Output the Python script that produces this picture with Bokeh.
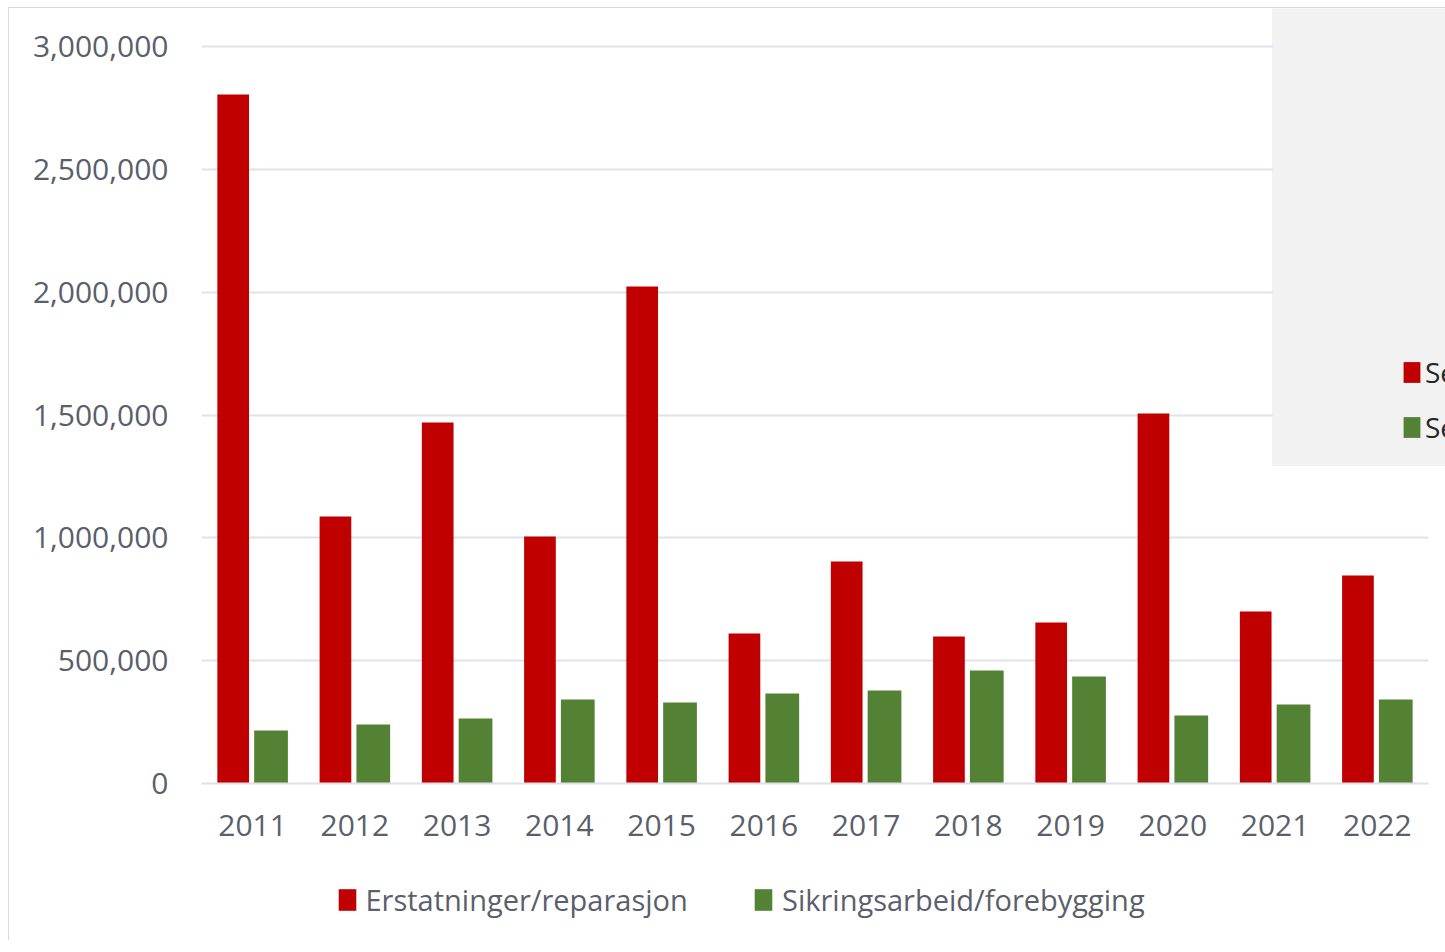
from bokeh.plotting import figure
from bokeh.layouts import column
from bokeh.models import (ColumnDataSource, Range1d, BoxAnnotation,
                          Legend, LegendItem, NumeralTickFormatter, FixedTicker)
from bokeh.transform import dodge
from bokeh.embed import file_html
from bokeh.resources import INLINE

# ---- data ----
years = ["2011", "2012", "2013", "2014", "2015", "2016",
         "2017", "2018", "2019", "2020", "2021", "2022"]
erstatninger = [2805000, 1087000, 1469000, 1005000, 2023000, 611000,
                904000, 598000, 655000, 1506000, 700000, 847000]
sikring = [216000, 240000, 265000, 342000, 330000, 366000,
           379000, 460000, 436000, 277000, 322000, 342000]
y_ticks = [0, 500000, 1000000, 1500000, 2000000, 2500000, 3000000]
series_names = ["Erstatninger/reparasjon", "Sikringsarbeid/forebygging"]
panel_names = ["Serie1", "Serie2"]

RED = "#c00000"
GREEN = "#548235"
TXT = "#5a5f6b"
FONT = "Open Sans"

idx = list(range(len(years)))
src = ColumnDataSource(dict(x=idx, year=years, e=erstatninger, s=sikring))

W, H1, H2 = 1436, 860, 72
FL, FB = 192, 775            # frame left / bottom (canvas px)
Y_MAX = 3000000
y_end = Y_MAX * FB / 737.0   # 3M gridline sits 38px below frame top
x_end = len(years) - 0.5 + (W - 1419) / 102.25

p = figure(x_range=Range1d(-0.5, x_end), y_range=Range1d(0, y_end),
           width=W, height=H1, output_backend="svg", toolbar_location=None,
           min_border_left=FL, min_border_right=0, min_border_top=0,
           min_border_bottom=H1 - FB)
p.outline_line_color = None
p.background_fill_color = "white"
p.border_fill_color = "white"

r1 = p.vbar(x=dodge("x", -0.19), top="e", width=0.31,
            source=src, fill_color=RED, line_color=None)
r2 = p.vbar(x=dodge("x", 0.18), top="s", width=0.33,
            source=src, fill_color=GREEN, line_color=None)

# axes
p.yaxis.ticker = FixedTicker(ticks=y_ticks)
p.yaxis.formatter = NumeralTickFormatter(format="0,0")
p.yaxis.axis_line_color = None
p.yaxis.major_tick_line_color = None
p.yaxis.minor_tick_line_color = None
p.yaxis.major_label_standoff = 27
p.xaxis.ticker = FixedTicker(ticks=idx)
p.xaxis.major_label_overrides = {i: y for i, y in zip(idx, years)}
p.xaxis.bounds = (-0.5, len(years) - 0.5)
p.xaxis.axis_line_color = "#dde0e8"
p.xaxis.axis_line_width = 2
p.xaxis.major_tick_line_color = None
p.xaxis.minor_tick_line_color = None
p.xaxis.major_label_standoff = 25
for ax in (p.xaxis, p.yaxis):
    ax.major_label_text_font = FONT
    ax.major_label_text_font_size = "30px"
    ax.major_label_text_color = TXT

p.xgrid.grid_line_color = None
p.ygrid.grid_line_color = "#dfe2ea"
p.ygrid.grid_line_width = 2

# white strip right of the plot area (hides grid overflow)
strip = BoxAnnotation(left=len(years) - 0.5, top=457, top_units="canvas",
                      fill_color="white", fill_alpha=1.0, line_color=None)
p.add_layout(strip)

# overlapping grey panel (part of another chart) at top right
panel = BoxAnnotation(left=1263, top=0, bottom=457,
                      left_units="canvas", top_units="canvas",
                      bottom_units="canvas",
                      fill_color="#f2f2f2", fill_alpha=1.0,
                      line_color="#e6e6e6", line_width=1)
p.add_layout(panel)

leg_panel = Legend(items=[LegendItem(label=panel_names[0], renderers=[r1]),
                          LegendItem(label=panel_names[1], renderers=[r2])],
                   location=(1200, 337), orientation="vertical",
                   border_line_color=None, background_fill_alpha=0,
                   padding=0, margin=0, spacing=17,
                   glyph_width=21, glyph_height=26, label_standoff=3,
                   label_text_font=FONT, label_text_font_size="28px",
                   label_text_color="#262626")
p.add_layout(leg_panel)

# ---- legend strip below the chart (frame aligned with the main plot) ----
p2 = figure(x_range=Range1d(1000, 1001), y_range=Range1d(1000, 1001),
            width=W, height=H2, output_backend="svg", toolbar_location=None,
            x_axis_location=None, y_axis_location=None,
            min_border_left=0, min_border_right=0, min_border_top=0,
            min_border_bottom=0)
p2.outline_line_color = None
p2.xgrid.visible = False
p2.ygrid.visible = False
# zero-size proxies: only their colours are used by the legend
k1 = p2.vbar(x="x", top=0, width=0, source=src,
             fill_color=RED, line_color=None)
k2 = p2.vbar(x="x", top=0, width=0, source=src,
             fill_color=GREEN, line_color=None)

for lab, rr, vx in ((series_names[0], k1, 134.5), (series_names[1], k2, 551)):
    lg = Legend(items=[LegendItem(label=lab, renderers=[rr])],
                location=(vx, 21), orientation="horizontal",
                border_line_color=None, background_fill_alpha=0,
                padding=0, margin=0,
                glyph_width=22, glyph_height=27, label_standoff=8,
                label_text_font=FONT, label_text_font_size="29px",
                label_text_color=TXT)
    p2.add_layout(lg)

layout = column(p, p2, spacing=0,
                styles={"margin-left": "8px", "margin-top": "7px",
                        "border-left": "1px solid #d9d9d9",
                        "border-top": "1px solid #d9d9d9"})

open("out.html", "w").write(file_html(layout, INLINE))
